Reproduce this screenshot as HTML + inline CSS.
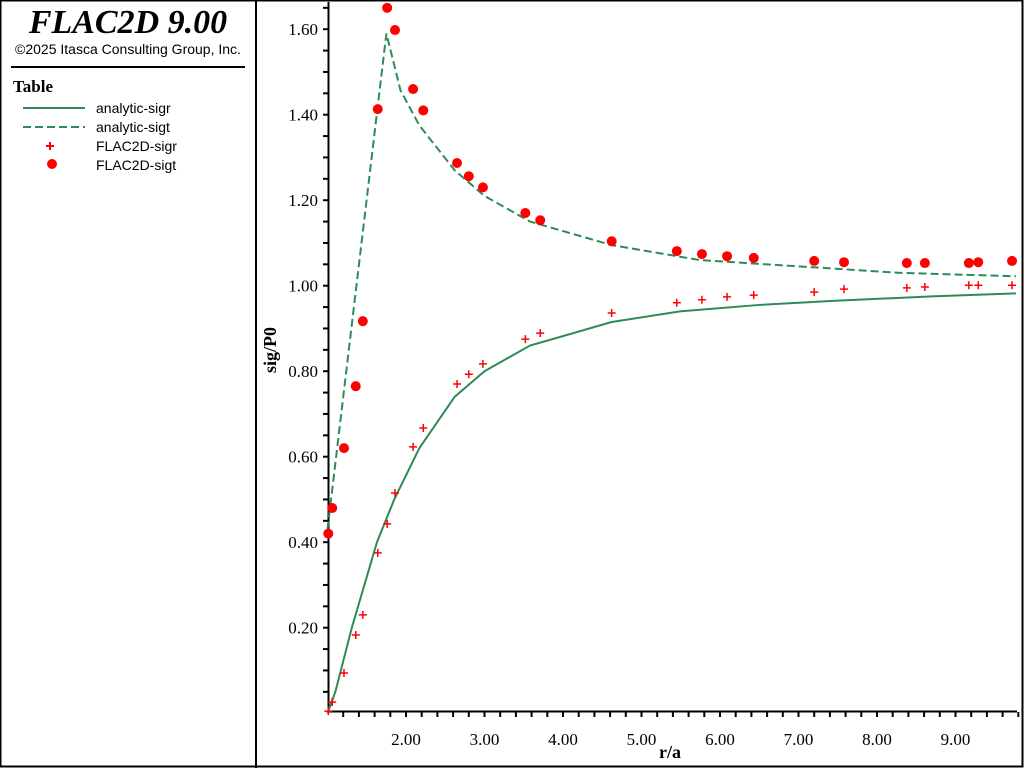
<!DOCTYPE html>
<html><head><meta charset="utf-8"><style>
body{margin:0;background:#fff;}
svg{display:block;font-family:"Liberation Serif",serif;}
</style></head><body>
<svg id="c" width="1024" height="768" xmlns="http://www.w3.org/2000/svg">
<rect x="0.5" y="0.5" width="1022" height="766" fill="#fff" stroke="#000" stroke-width="2"/>
<line x1="256" y1="0" x2="256" y2="768" stroke="#000" stroke-width="2"/>
<text x="128" y="33" text-anchor="middle" font-size="34" font-style="italic" font-weight="bold">FLAC2D 9.00</text>
<text x="128" y="54" text-anchor="middle" font-size="14" font-family="Liberation Sans, sans-serif">©2025 Itasca Consulting Group, Inc.</text>
<line x1="11" y1="67" x2="245" y2="67" stroke="#000" stroke-width="2"/>
<text x="13" y="92" font-size="17" font-weight="bold">Table</text>
<g font-family="Liberation Sans, sans-serif" font-size="14">
<g><line x1="23" y1="108" x2="85" y2="108" stroke="#2e8b57" stroke-width="2"/><text x="96" y="113">analytic-sigr</text></g>
<g><line x1="23" y1="127" x2="85" y2="127" stroke="#2e8b57" stroke-width="2" stroke-dasharray="8,4"/><text x="96" y="132">analytic-sigt</text></g>
<g><path d="M50 142v8M46 146h8" stroke="#f00" stroke-width="2"/><text x="96" y="151">FLAC2D-sigr</text></g>
<g><circle cx="52" cy="164" r="5" fill="#f00"/><text x="96" y="170">FLAC2D-sigt</text></g>
</g>
<g id="axes"></g>
<g id="marks"></g>
<text x="670" y="758" text-anchor="middle" font-size="18" font-weight="bold">r/a</text>
<text transform="translate(276,350) rotate(-90)" text-anchor="middle" font-size="18" font-weight="bold">sig/P0</text>
</svg>
<script>
const xTickLabels=["2.00","3.00","4.00","5.00","6.00","7.00","8.00","9.00"];
const yTickLabels=["0.20","0.40","0.60","0.80","1.00","1.20","1.40","1.60"];
const anaRr=[1,1.1,1.31,1.63,1.85,2.17,2.62,3.0,3.58,3.96,4.62,5.49,6.5,7.5,8.7,9.77];
const anaSigr=[0,0.05,0.2,0.4,0.5,0.62,0.74,0.8,0.86,0.88,0.915,0.94,0.955,0.965,0.975,0.982];
const anaTr=[1,1.75,1.93,2.17,2.62,3.0,3.58,4.62,5.74,7.02,8.3,9.77];
const anaSigt=[0.43,1.59,1.457,1.375,1.27,1.21,1.15,1.095,1.06,1.045,1.03,1.022];
const flacR=[1.01,1.06,1.21,1.36,1.45,1.64,1.76,1.86,2.09,2.22,2.65,2.80,2.98,3.52,3.71,4.62,5.45,5.77,6.09,6.43,7.20,7.58,8.38,8.61,9.17,9.29,9.72];
const flacSigt=[0.42,0.48,0.62,0.765,0.917,1.413,1.65,1.598,1.46,1.41,1.287,1.256,1.23,1.17,1.153,1.104,1.081,1.074,1.069,1.065,1.058,1.055,1.053,1.053,1.053,1.055,1.058];
const flacSigr=[0.005,0.026,0.094,0.183,0.230,0.375,0.443,0.515,0.623,0.667,0.770,0.793,0.817,0.875,0.889,0.936,0.960,0.967,0.974,0.978,0.985,0.992,0.995,0.997,1.001,1.001,1.001];
const NS="http://www.w3.org/2000/svg";
const X=v=>327.5+(v-1)*78.5, Y=v=>713.2-v*427.5;
const ax=document.getElementById('axes'), mk=document.getElementById('marks');
function el(t,a,p){const e=document.createElementNS(NS,t);for(const k in a)e.setAttribute(k,a[k]);p.appendChild(e);return e;}
let a=el('path',{d:'M328.5 2V711.5H1017',stroke:'#000','stroke-width':2,fill:'none'},ax);


for(let v=0.05;v<1.66;v+=0.05){const y=Y(v);let t=el('line',{x1:323,x2:328,y1:y,y2:y,stroke:'#000','stroke-width':2},ax);

}
for(let v=1.2;v<9.8;v+=0.2){const x=X(v);let t=el('line',{x1:x,x2:x,y1:712,y2:717,stroke:'#000','stroke-width':2},ax);

}
yTickLabels.forEach(s=>{let t=el('text',{x:318,y:Y(parseFloat(s))+6,'text-anchor':'end','font-size':17},ax);t.textContent=s;

});
xTickLabels.forEach(s=>{let t=el('text',{x:X(parseFloat(s)),y:745,'text-anchor':'middle','font-size':17},ax);t.textContent=s;

});
function line(xs,ys,dash,name){let p=el('polyline',{points:xs.map((x,i)=>X(x)+','+Y(ys[i])).join(' '),fill:'none',stroke:'#2e8b57','stroke-width':2},mk);
if(dash)p.setAttribute('stroke-dasharray','8,4');

}
line(anaRr,anaSigr,false,'analytic-sigr-line');
line(anaTr,anaSigt,true,'analytic-sigt-line');
flacR.forEach((r,i)=>{const x=X(r),y=Y(flacSigr[i]);let c=el('path',{d:`M${x} ${y-4}v8M${x-4} ${y}h8`,stroke:'#f00','stroke-width':1.5},mk);

});
flacR.forEach((r,i)=>{let c=el('circle',{cx:X(r),cy:Y(flacSigt[i]),r:5,fill:'#f00'},mk);

});
</script>
</body></html>
